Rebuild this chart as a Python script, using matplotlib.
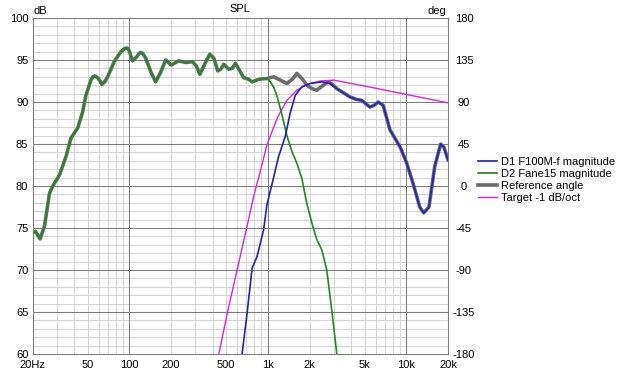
import matplotlib
matplotlib.use("Agg")
import matplotlib.pyplot as plt
from matplotlib.lines import Line2D

plt.rcParams['font.family'] = ['Liberation Sans', 'DejaVu Sans']
plt.rcParams['font.size'] = 8

# reference angle (sum) response, Hz / dB
ref_freq = [20, 21, 22.7, 24.4, 26.5, 28, 31.3, 34.9, 37.9, 42.4, 46, 48.6, 52.8, 54.6,
            56.5, 59.8, 63.4, 66.5, 69.7, 77.8, 86.9, 93.3, 97, 100, 102.5, 105.4, 112,
            119.6, 125, 131.5, 143, 155, 168, 183, 201, 228, 255, 285, 305, 323, 350, 381,
            408, 435, 458, 481, 522, 552, 584, 670, 728, 770, 859, 986, 1101, 1230,
            1374, 1500, 1622, 1762, 1914, 2080, 2259, 2518, 2737, 2973, 3145, 3511, 3924,
            4385, 4757, 5454, 5850, 6268, 6812, 7610, 8985, 10030, 11190, 12500, 13360,
            14580, 16030, 17700, 18700, 20000]
ref_db = [74.4, 74.6, 73.7, 75.2, 79.1, 80.0, 81.3, 83.5, 85.7, 86.9, 88.8, 90.8, 92.6,
          93.0, 93.1, 92.8, 92.1, 92.4, 93.0, 94.8, 96.0, 96.4, 96.4, 96.1, 95.5, 94.9,
          95.3, 95.9, 95.8, 95.2, 93.6, 92.4, 93.5, 95.0, 94.4, 94.9, 94.7, 94.8, 94.3,
          93.3, 94.5, 95.7, 95.2, 93.7, 93.9, 94.5, 93.9, 94.0, 94.6, 92.9, 92.7, 92.4,
          92.7, 92.8, 93.0, 92.6, 92.2, 92.7, 93.4, 92.8, 92.0, 91.6, 91.4, 92.0, 92.4,
          92.0, 91.6, 91.1, 90.6, 90.3, 90.2, 89.4, 89.6, 90.0, 89.6, 86.7, 84.7, 82.8,
          80.3, 77.5, 76.8, 77.5, 82.3, 85.0, 84.6, 83.1]

# D2 Fane15 (woofer): same as reference below 1 kHz, then rolls off
d2_freq = ref_freq[:54] + [1042, 1101, 1170, 1260, 1374, 1494, 1622, 1762, 1914, 2080,
                           2259, 2455, 2665, 2897, 3145, 3300]
d2_db = ref_db[:54] + [92.4, 91.8, 90.6, 88.6, 86.0, 84.1, 82.7, 80.9, 77.9, 75.6,
                       73.6, 72.4, 70.0, 65.2, 60.1, 57.0]

# D1 F100M-f (mid/tweeter): rises from 650 Hz, same as reference above 3 kHz
d1_freq = [640, 652, 708, 770, 836, 933, 986, 1101, 1196, 1336, 1452, 1578, 1762, 2022,
           2455, 2817] + ref_freq[66:]
d1_db = [57.0, 60.0, 64.8, 70.2, 71.6, 74.8, 77.8, 81.0, 83.5, 85.9, 88.7, 90.8, 91.8,
         92.2, 92.4, 92.2] + ref_db[66:]

# target -1 dB/oct
tgt_freq = [420, 443, 509, 600, 708, 791, 859, 986, 1170, 1374, 1622, 1914, 2387, 3000,
            5000, 10000, 20000]
tgt_db = [58.2, 60.0, 64.8, 70.0, 75.2, 78.8, 81.0, 84.9, 88.1, 90.2, 91.4, 92.1, 92.5,
          92.6, 91.9, 90.9, 89.9]

xticks = [20, 50, 100, 200, 500, 1000, 2000, 5000, 10000, 20000]
xlabels = ['20Hz', '50', '100', '200', '500', '1k', '2k', '5k', '10k', '20k']
deg_ticks = [-180, -135, -90, -45, 0, 45, 90, 135, 180]

W, H = 627, 373
fig = plt.figure(figsize=(W / 100, H / 100), dpi=100)
ax = fig.add_axes([32.5 / W, 1 - 354 / H, (448 - 32.5) / W, (354 - 18) / H])
ax.set_xscale('log')
ax.set_xlim(20, 20000)
ax.set_ylim(60, 100)

# grid
for dec in [10, 100, 1000, 10000]:
    for m in range(2, 10):
        f = dec * m
        if 20 <= f <= 20000:
            ax.axvline(f, color='#d6d6d6', lw=0.75, zorder=0)
for f in [100, 1000, 10000]:
    ax.axvline(f, color='#7c7c7c', lw=0.75, zorder=0.5)
for d in range(61, 100):
    if d % 5:
        ax.axhline(d, color='#d6d6d6', lw=0.75, zorder=0)
    else:
        ax.axhline(d, color='#7c7c7c', lw=0.75, zorder=0.5)

ax.plot(ref_freq, ref_db, color='#6c6c6c', lw=2.6, zorder=2, solid_joinstyle='round')
ax.plot(tgt_freq, tgt_db, color='#e020e0', lw=1.0, zorder=3)
ax.plot(d2_freq, d2_db, color='#1f8a1f', lw=1.2, zorder=4, solid_joinstyle='round')
ax.plot(d1_freq, d1_db, color='#2020c8', lw=1.2, zorder=5, solid_joinstyle='round')

ax.set_xticks(xticks)
ax.set_xticklabels(xlabels)
ax.xaxis.set_minor_locator(matplotlib.ticker.NullLocator())
ax.set_yticks(range(60, 101, 5))
ax.tick_params(axis='x', length=0, pad=4.5, colors='#000000')
ax.tick_params(axis='y', length=0, pad=3)
for s in ax.spines.values():
    s.set_color('#7c7c7c')
    s.set_linewidth(0.75)

ax2 = ax.twinx()
ax2.set_ylim(-180, 180)
ax2.set_yticks(deg_ticks)
ax2.set_yticklabels([str(t) for t in deg_ticks], ha='center')
ax2.tick_params(axis='y', length=0, pad=11.5)
for s in ax2.spines.values():
    s.set_visible(False)

fig.text(240 / W, 1 - 8.5 / H, 'SPL', ha='center', va='center')
fig.text(33 / W, 1 - 11 / H, 'dB', ha='left', va='center')
fig.text(446 / W, 1 - 11 / H, 'deg', ha='right', va='center')

handles = [Line2D([], [], color='#2020a8', lw=1.2),
           Line2D([], [], color='#1f7a1f', lw=1.2),
           Line2D([], [], color='#6c6c6c', lw=2.6),
           Line2D([], [], color='#e020e0', lw=1.0)]
labels = ['D1 F100M-f magnitude', 'D2 Fane15 magnitude', 'Reference angle',
          'Target -1 dB/oct']
fig.legend(handles, labels, loc='upper left', bbox_to_anchor=(478 / W, 1 - 157 / H),
           frameon=False, handlelength=1.7, handletextpad=0.4, labelspacing=0.18,
           borderpad=0, borderaxespad=0)

fig.savefig('out.png', dpi=100)
